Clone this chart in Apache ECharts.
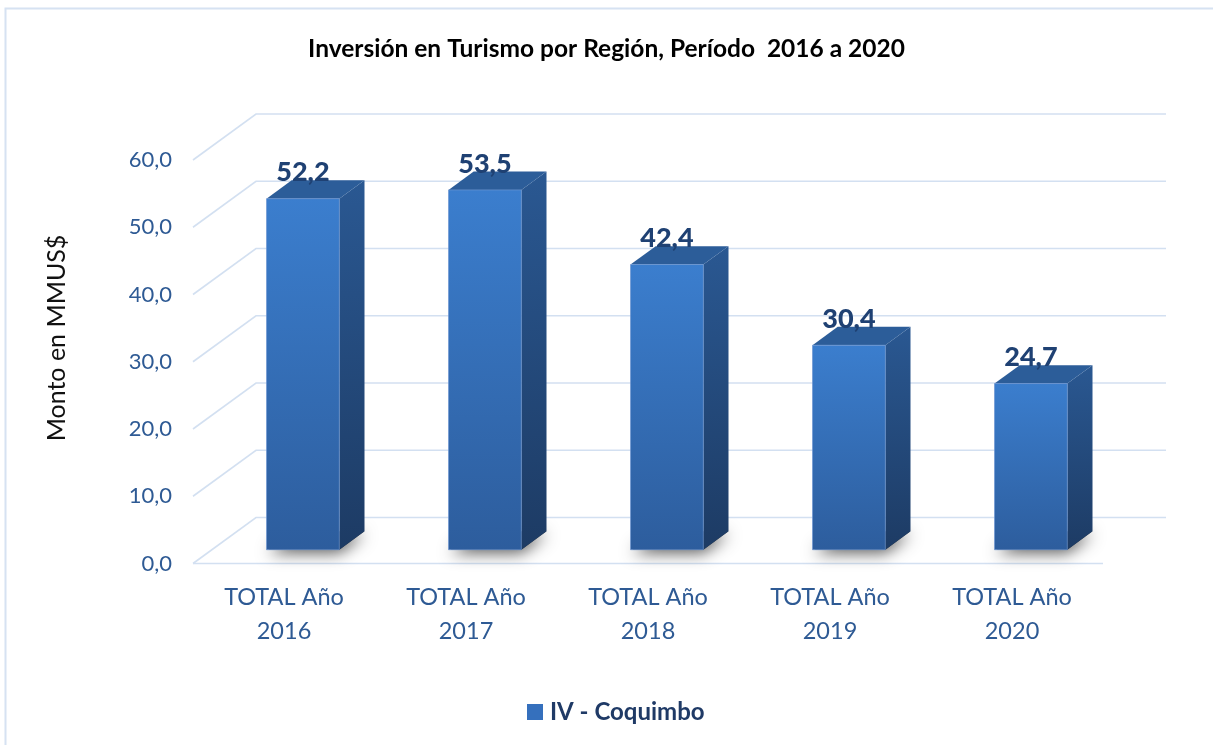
<!DOCTYPE html>
<html>
<head>
<meta charset="utf-8">
<script src="https://cdn.jsdelivr.net/npm/echarts@6/dist/echarts.min.js"></script>
<style>
  html, body { margin: 0; padding: 0; background: #ffffff; }
  #chart { width: 1213px; height: 745px; }
</style>
</head>
<body>
<div id="chart"></div>
<script>
// Inversión en turismo, región de Coquimbo (MMUS$)
const categories = ['TOTAL Año\n2016', 'TOTAL Año\n2017', 'TOTAL Año\n2018', 'TOTAL Año\n2019', 'TOTAL Año\n2020'];
const values = [52.2, 53.5, 42.4, 30.4, 24.7];
const yTicks = [0, 10, 20, 30, 40, 50, 60];
const seriesName = 'IV - Coquimbo';
const titleText = 'Inversión en Turismo por Región, Período  2016 a 2020';
const yAxisName = 'Monto en MMUS$';

// perspective depth of the chart box (back wall offset from the front plane)
const DEPTH_X = 63, DEPTH_Y = -46;
const GRID_COLOR = '#D3E0F1';
const FONT = 'Lato, "Open Sans", sans-serif';

const fmt = v => v.toFixed(1).replace('.', ',');

const chart = echarts.init(document.getElementById('chart'), null, { renderer: 'canvas' });

// back wall + left wall gridlines for each tick value
function renderWalls(params, api) {
  const cs = params.coordSys;
  const v = api.value(1);
  const y = api.coord([0, v])[1];
  const x0 = cs.x, x1 = cs.x + cs.width;
  const children = [{
    type: 'polyline',
    shape: { points: [[x0, y], [x0 + DEPTH_X, y + DEPTH_Y], [x1 + DEPTH_X, y + DEPTH_Y]] },
    style: { stroke: GRID_COLOR, lineWidth: 1.6, fill: null }
  }];
  if (v === 0) {
    children.push({
      type: 'line',
      shape: { x1: x0, y1: y, x2: x1, y2: y },
      style: { stroke: GRID_COLOR, lineWidth: 1.6 }
    });
  }
  return { type: 'group', children };
}

// 3D column: front face, side face, top face, floor shadow and value label
function renderBar(params, api) {
  const idx = api.value(0);
  const val = api.value(1);
  const base = api.coord([idx, 0]);
  const top = api.coord([idx, val]);
  const bw = api.size([1, 0])[0] * 0.4;
  const ox = DEPTH_X * 0.3, oy = DEPTH_Y * 0.3;
  const dx = DEPTH_X * 0.4, dy = DEPTH_Y * 0.4;
  const xl = base[0] + ox - bw / 2;
  const xr = base[0] + ox + bw / 2;
  const yb = base[1] + oy;
  const yt = top[1] + oy;
  return {
    type: 'group',
    children: [
      {
        type: 'polygon',
        shape: { points: [[xl + 2, yb], [xr, yb], [xr + dx, yb + dy], [xl + dx, yb + dy]] },
        style: {
          fill: 'rgba(40,40,40,0.9)',
          shadowBlur: 16, shadowColor: 'rgba(0,0,0,0.75)',
          shadowOffsetX: 0, shadowOffsetY: 3
        }
      },
      {
        type: 'polygon',
        shape: { points: [[xr, yt], [xr + dx, yt + dy], [xr + dx, yb + dy], [xr, yb]] },
        style: {
          fill: new echarts.graphic.LinearGradient(0, 0, 0, 1, [
            { offset: 0, color: '#2A5892' },
            { offset: 1, color: '#1D3B64' }
          ])
        }
      },
      {
        type: 'polygon',
        shape: { points: [[xl, yt], [xl + dx, yt + dy], [xr + dx, yt + dy], [xr, yt]] },
        style: { fill: '#2C5D99' }
      },
      {
        type: 'rect',
        shape: { x: xl, y: yt, width: xr - xl, height: yb - yt },
        style: {
          fill: new echarts.graphic.LinearGradient(0, 0, 0, 1, [
            { offset: 0, color: '#3B7ECE' },
            { offset: 1, color: '#2D5D9D' }
          ]),
          stroke: 'rgba(110,150,210,0.7)', lineWidth: 1
        }
      },
      {
        type: 'text',
        style: {
          x: (xl + xr) / 2, y: yt - 26,
          text: fmt(val),
          fill: '#1F4173',
          font: '900 27px ' + FONT,
          align: 'center', verticalAlign: 'middle'
        }
      }
    ]
  };
}

chart.setOption({
  animation: false,
  backgroundColor: '#ffffff',
  title: {
    text: titleText,
    left: 'center',
    top: 32,
    textStyle: { fontFamily: FONT, fontWeight: 'bold', fontSize: 24.5, color: '#000000' }
  },
  legend: {
    data: [seriesName],
    bottom: 16,
    left: 522,
    icon: 'rect',
    itemWidth: 16,
    itemHeight: 16,
    textStyle: {
      fontFamily: FONT, fontWeight: 'bold', fontSize: 24, color: '#1F3A66',
      padding: [0, 0, 0, 2]
    }
  },
  graphic: [
    {
      type: 'rect',
      shape: { x: 5.5, y: 8.5, width: 1300, height: 800 },
      style: { fill: null, stroke: '#D6E2F2', lineWidth: 2 },
      silent: true
    },
    {
      // vertical axis title
      type: 'text',
      x: 57,
      y: 338,
      rotation: Math.PI / 2,
      style: {
        text: yAxisName,
        font: '25px ' + FONT,
        fill: '#111111',
        align: 'center',
        verticalAlign: 'middle'
      },
      silent: true
    }
  ],
  grid: { left: 193, right: 110, top: 160, bottom: 181.5 },
  xAxis: {
    type: 'category',
    data: categories,
    axisLine: { show: false },
    axisTick: { show: false },
    axisLabel: {
      margin: 17,
      lineHeight: 34,
      fontFamily: FONT,
      fontSize: 23.5,
      color: '#2E5A94'
    }
  },
  yAxis: {
    type: 'value',
    min: 0,
    max: 60,
    interval: 10,
    axisLine: { show: false },
    axisTick: { show: false },
    splitLine: { show: false },
    axisLabel: {
      margin: 21,
      formatter: v => fmt(v),
      fontFamily: FONT,
      fontSize: 22,
      color: '#2E5A94'
    }
  },
  series: [
    {
      type: 'custom',
      name: 'grid',
      silent: true,
      z: 1,
      data: yTicks.map(v => [0, v]),
      encode: { x: 0, y: 1 },
      renderItem: renderWalls
    },
    {
      type: 'custom',
      name: seriesName,
      z: 2,
      itemStyle: { color: '#3570BD' },
      data: values.map((v, i) => [i, v]),
      encode: { x: 0, y: 1 },
      renderItem: renderBar
    }
  ]
});
</script>
</body>
</html>
